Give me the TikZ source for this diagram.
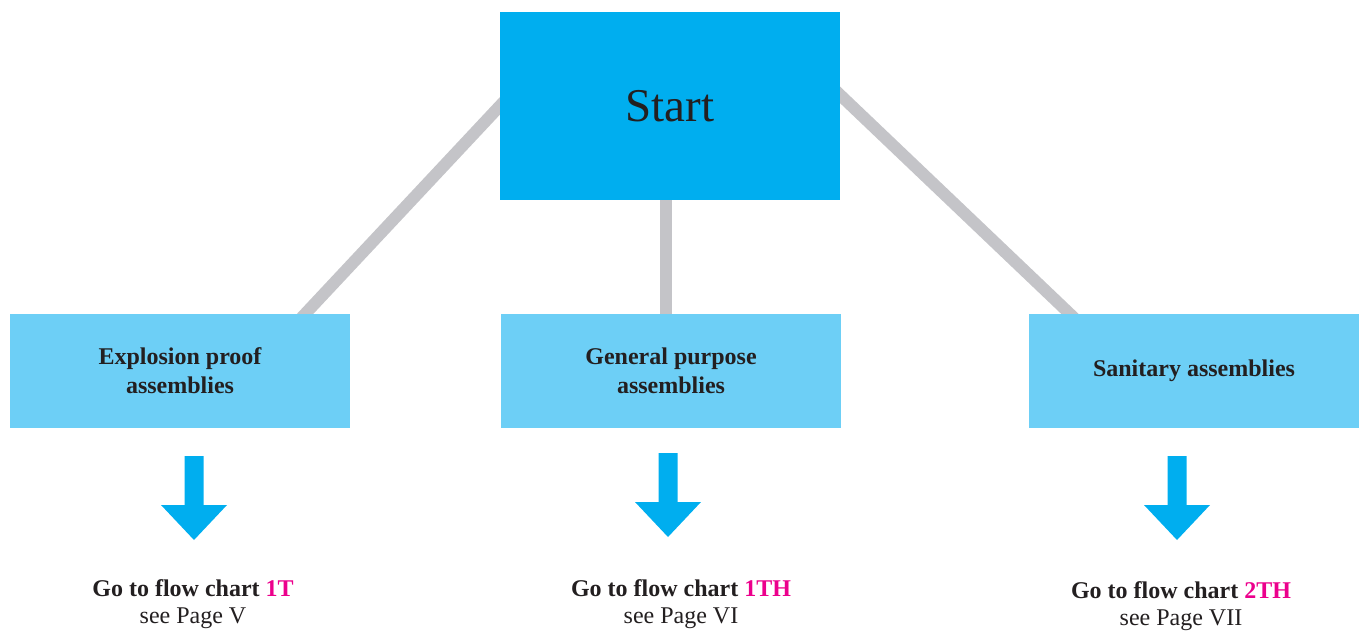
\documentclass[tikz,border=0pt]{standalone}
\usepackage{fontspec}
\setmainfont{Liberation Serif}
\usetikzlibrary{calc,backgrounds}
\definecolor{startblue}{HTML}{00AEEF}
\definecolor{boxblue}{HTML}{6DCFF6}
\definecolor{linkgray}{HTML}{C4C4C8}
\definecolor{chartpink}{HTML}{EC008C}
\definecolor{ink}{HTML}{231F20}
\begin{document}
\begin{tikzpicture}[x=1pt,y=-1pt,
  startbox/.style={fill=startblue,minimum width=340pt,minimum height=188pt,inner sep=0pt,
    text=ink,font=\fontsize{47}{52}\selectfont},
  groupbox/.style={fill=boxblue,minimum height=114pt,inner sep=0pt,align=center,
    text=ink,font=\bfseries\fontsize{24}{29}\selectfont},
  link/.style={draw=linkgray,line width=12pt},
  target/.style={align=center,text=ink,font=\fontsize{24}{27}\selectfont},
  downarrow/.pic={\fill[startblue] (-9.5,0) -- (9.5,0) -- (9.5,49) -- (33,49) -- (0,84)
    -- (-33,49) -- (-9.5,49) -- cycle;}]
\useasboundingbox (0,0) rectangle (1359,632);

% start box and the three assembly groups
\node[startbox] (start) at (670,106) {Start};
\node[groupbox,minimum width=340pt] (expl) at (180,371) {Explosion proof\\assemblies};
\node[groupbox,minimum width=340pt] (gp) at (671,371) {General purpose\\assemblies};
\node[groupbox,minimum width=330pt] (san) at (1194,371) {Sanitary assemblies};

% grey links from start to each group, kept behind the boxes
\coordinate (lk1a) at (start.west);
\coordinate (lk1b) at ($(expl.north east)+(-45,0)$);
\coordinate (lk2a) at ($(start.south)+(-4,0)$);
\coordinate (lk2b) at ($(gp.north)+(-5,0)$);
\coordinate (lk3a) at ($(start.east)+(0,-11)$);
\coordinate (lk3b) at ($(san.north west)+(41,0)$);
\begin{scope}[on background layer]
\draw[link] ($(lk1a)!-0.08!(lk1b)$) -- ($(lk1b)!-0.08!(lk1a)$);
\draw[link] ($(lk2a)!-0.1!(lk2b)$) -- ($(lk2b)!-0.1!(lk2a)$);
\draw[link] ($(lk3a)!-0.08!(lk3b)$) -- ($(lk3b)!-0.08!(lk3a)$);
\end{scope}

% down arrows
\pic at (194,456) {downarrow};
\pic at (668,453) {downarrow};
\pic at (1177,456) {downarrow};

% targets
\node[target] (t1) at (193,604) {\textbf{Go to flow chart \textcolor{chartpink}{1T}}\\see Page V};
\node[target] (t2) at (681,604) {\textbf{Go to flow chart \textcolor{chartpink}{1TH}}\\see Page VI};
\node[target] (t3) at (1181,606) {\textbf{Go to flow chart \textcolor{chartpink}{2TH}}\\see Page VII};
\end{tikzpicture}
\end{document}
